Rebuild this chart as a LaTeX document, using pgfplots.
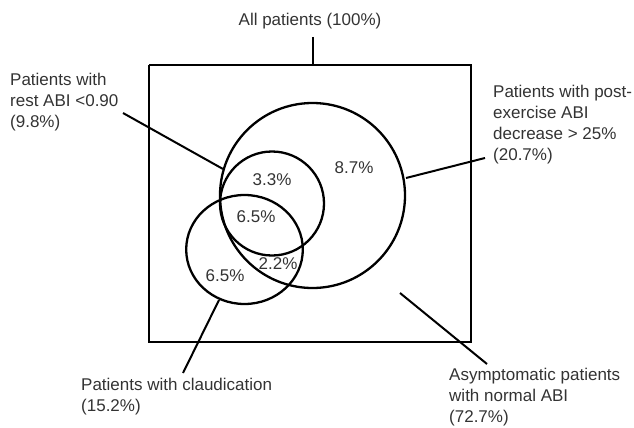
\documentclass[border=0pt]{standalone}
\usepackage{pgfplots}
\pgfplotsset{compat=1.18}
\usepackage{fontspec}
\setmainfont{Liberation Sans}
\definecolor{txt}{gray}{0.2}
\begin{document}
\fontsize{17}{21}\selectfont
\begin{tikzpicture}
\begin{axis}[scale only axis, width=634pt, height=428pt,
  xmin=0, xmax=634, ymin=0, ymax=428, y dir=reverse,
  hide axis, clip=false]
\pgfplotsset{ln/.style={black, solid, no markers, line width=2pt}}
% invisible frame to fix the bounding box
\addplot[draw=none, no markers] coordinates {(0,0) (634,428)};
% outer rectangle (all patients)
\addplot[ln, line width=2.2pt, line join=miter] coordinates {(149,65) (471,65) (471,342) (149,342) (149,65)};
% sets as circles: centre and radius
\addplot[black, only marks, mark=o, mark size=92.5, mark options={line width=2.3pt}] coordinates {(312.5,195.5)};
\addplot[black, only marks, mark=o, mark size=52, mark options={line width=2.3pt}] coordinates {(272,203.5)};
\addplot[black, only marks, mark=o, mark size=54.5, mark options={line width=2.3pt, xscale=1.07}] coordinates {(244.5,249.5)};
% leader lines
\addplot[ln] coordinates {(313,37) (313,65)};
\addplot[ln] coordinates {(123,113) (223,169)};
\addplot[ln] coordinates {(406,178) (485,158)};
\addplot[ln] coordinates {(400,293) (487,364)};
\addplot[ln] coordinates {(219,300) (183,373)};
% region values
\node[txt, anchor=center] at (axis cs:272,180) {3.3\%};
\node[txt, anchor=center] at (axis cs:354,168) {8.7\%};
\node[txt, anchor=center] at (axis cs:256,217) {6.5\%};
\node[txt, anchor=center] at (axis cs:278,264) {2.2\%};
\node[txt, anchor=center] at (axis cs:225,276) {6.5\%};
% labels
\node[txt, anchor=base, inner sep=0pt] at (axis cs:310,26) {All patients (100\%)};
\node[txt, anchor=base west, inner sep=0pt] at (axis cs:10,85) {Patients with};
\node[txt, anchor=base west, inner sep=0pt] at (axis cs:10,106) {rest ABI <0.90};
\node[txt, anchor=base west, inner sep=0pt] at (axis cs:10,127) {(9.8\%)};
\node[txt, anchor=base west, inner sep=0pt] at (axis cs:493,97) {Patients with post-};
\node[txt, anchor=base west, inner sep=0pt] at (axis cs:493,118) {exercise ABI};
\node[txt, anchor=base west, inner sep=0pt] at (axis cs:493,139) {decrease > 25\%};
\node[txt, anchor=base west, inner sep=0pt] at (axis cs:493,160) {(20.7\%)};
\node[txt, anchor=base west, inner sep=0pt] at (axis cs:81,390) {Patients with claudication};
\node[txt, anchor=base west, inner sep=0pt] at (axis cs:81,411) {(15.2\%)};
\node[txt, anchor=base west, inner sep=0pt] at (axis cs:449,380) {Asymptomatic patients};
\node[txt, anchor=base west, inner sep=0pt] at (axis cs:449,401) {with normal ABI};
\node[txt, anchor=base west, inner sep=0pt] at (axis cs:449,422) {(72.7\%)};
\end{axis}
\end{tikzpicture}
\end{document}
